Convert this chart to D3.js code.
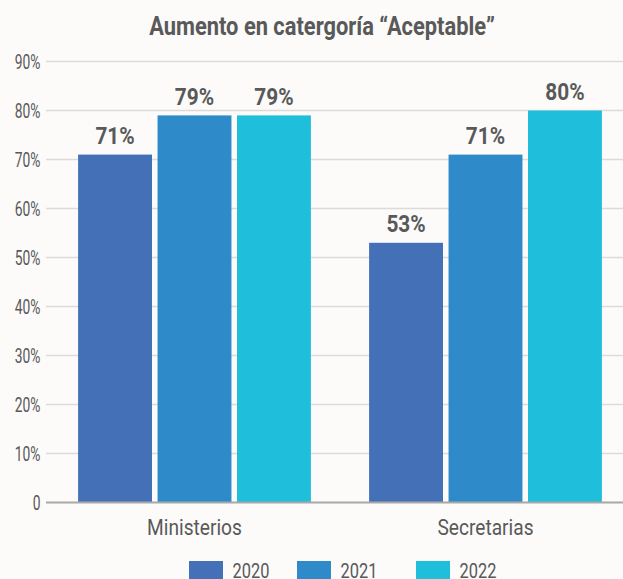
<!DOCTYPE html>
<html>
<head>
<meta charset="utf-8">
<script src="https://cdn.jsdelivr.net/npm/d3@7"></script>
<style>
  html, body { margin: 0; padding: 0; background: #fcfbfa; }
  svg { display: block; font-family: Roboto, "Liberation Sans", sans-serif; }
</style>
</head>
<body>
<svg id="chart" width="623" height="579"></svg>
<script>
// Data
const categories = ["Ministerios", "Secretarias"];
const years = ["2020", "2021", "2022"];
const values2020 = [71, 53];
const values2021 = [79, 71];
const values2022 = [79, 80];
const yTicks = [0, 10, 20, 30, 40, 50, 60, 70, 80, 90];
const yTickLabels = ["0", "10%", "20%", "30%", "40%", "50%", "60%", "70%", "80%", "90%"];
const titleText = "Aumento en catergoría \u201CAceptable\u201D";

const seriesValues = [values2020, values2021, values2022];
const colors = ["#4470b8", "#2e8ac9", "#1fbedb"];
const textColor = "#595959";

const W = 623, H = 579;
const svg = d3.select("#chart");
svg.append("rect").attr("width", W).attr("height", H).attr("fill", "#fcfbfa");

// Scales
const y = d3.scaleLinear().domain([0, 90]).range([502.5, 61.5]);
const x0 = d3.scaleBand().domain(categories).range([49, 631]).paddingInner(0.2).paddingOuter(0.1);
const x1 = d3.scaleBand().domain(years).range([0, x0.bandwidth()]).paddingInner(0.07);

// condensed-looking text via horizontal scaling
function condensed(sel, sx) {
  sel.each(function () {
    const t = d3.select(this);
    const px = +t.attr("data-x") || 0, py = +t.attr("data-y") || 0;
    t.attr("transform", `translate(${px},${py}) scale(${sx},1)`);
  });
}

// Title
svg.append("text")
  .attr("data-x", 322).attr("data-y", 34.5)
  .attr("text-anchor", "middle")
  .attr("font-size", 25).attr("font-weight", 700)
  .attr("fill", textColor)
  .text(titleText)
  .call(condensed, 0.875);

// Gridlines
const grid = svg.append("g");
grid.selectAll("line")
  .data(yTicks.filter(d => d > 0))
  .join("line")
  .attr("x1", 46).attr("x2", W)
  .attr("y1", d => y(d)).attr("y2", d => y(d))
  .attr("stroke", "#dcdbda").attr("stroke-width", 1.5);

// Y axis labels
const yAxis = d3.axisLeft(y).tickValues(yTicks).tickFormat((d, i) => yTickLabels[i]).tickSize(0).tickPadding(0);
const gy = svg.append("g").attr("transform", "translate(40.5,0)").call(yAxis);
gy.select(".domain").remove();
gy.selectAll(".tick text")
  .attr("fill", textColor)
  .attr("font-size", 19.5)
  .attr("font-family", "Roboto, sans-serif")
  .attr("x", 0).attr("dy", "0.36em")
  .attr("transform", "scale(0.71,1)");

// Bars
const groups = svg.append("g").selectAll("g")
  .data(categories)
  .join("g")
  .attr("transform", d => `translate(${x0(d)},0)`);

groups.selectAll("rect")
  .data((c, ci) => years.map((yr, si) => ({ yr, si, v: seriesValues[si][ci] })))
  .join("rect")
  .attr("x", d => x1(d.yr))
  .attr("width", x1.bandwidth())
  .attr("y", d => y(d.v))
  .attr("height", d => y(0) - y(d.v))
  .attr("fill", d => colors[d.si]);

// Value labels
groups.selectAll("text")
  .data((c, ci) => years.map((yr, si) => ({ yr, si, v: seriesValues[si][ci] })))
  .join("text")
  .attr("data-x", d => x1(d.yr) + x1.bandwidth() / 2)
  .attr("data-y", d => y(d.v) - 10.5)
  .attr("text-anchor", "middle")
  .attr("font-size", 24.5).attr("font-weight", 700)
  .attr("fill", textColor)
  .text(d => d.v + "%")
  .call(condensed, 0.85);

// Baseline
svg.append("line")
  .attr("x1", 46).attr("x2", W)
  .attr("y1", y(0)).attr("y2", y(0))
  .attr("stroke", "#a8a8a8").attr("stroke-width", 2);

// Category labels
svg.append("g").selectAll("text")
  .data(categories)
  .join("text")
  .attr("data-x", d => x0(d) + x0.bandwidth() / 2)
  .attr("data-y", 534.5)
  .attr("text-anchor", "middle")
  .attr("font-size", 22)
  .attr("fill", textColor)
  .text(d => d)
  .call(condensed, 0.87);

// Legend
const legendX = [189, 297, 416];
const legend = svg.append("g").selectAll("g")
  .data(years)
  .join("g")
  .attr("transform", (d, i) => `translate(${legendX[i]},561)`);
legend.append("rect")
  .attr("width", 34).attr("height", 20)
  .attr("fill", (d, i) => colors[i]);
legend.append("text")
  .attr("data-x", 43.5).attr("data-y", 17)
  .attr("font-size", 20.5)
  .attr("fill", textColor)
  .text(d => d)
  .call(condensed, 0.8);
</script>
</body>
</html>
